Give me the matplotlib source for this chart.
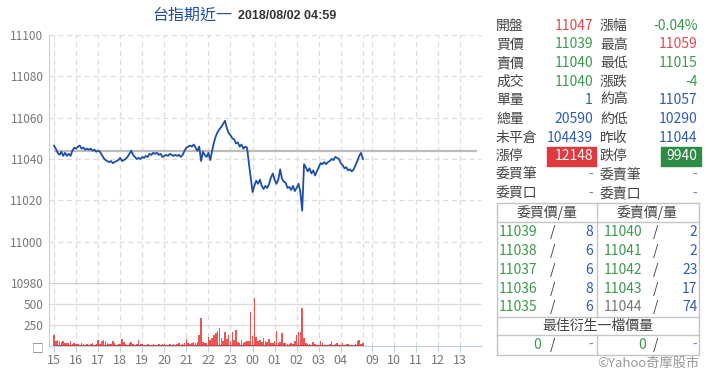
import numpy as np
import matplotlib.pyplot as plt

plt.rcParams['font.family'] = ['Noto Sans CJK TC', 'DejaVu Sans']

# minutes after 15:00 (night session), sampled every 5 minutes up to 05:00
minutes = np.arange(0, 845, 5)

price = [
    11046.5, 11045, 11043, 11042, 11043.5, 11041.5, 11043, 11041.5, 11042.5, 11041.5,
    11044, 11045.5, 11045, 11046, 11046.5, 11045, 11045.5, 11044.5, 11045, 11044.5,
    11045, 11044, 11044.5, 11043.5, 11044, 11043.5, 11042, 11040.5, 11039.5, 11039,
    11038.5, 11039, 11038, 11038.5, 11039, 11039.5, 11040.5, 11039, 11039.5, 11040,
    11041, 11042.5, 11044, 11042, 11041, 11040, 11040.5, 11040, 11041, 11040.5,
    11041.5, 11041, 11042.5, 11042, 11043, 11042.5, 11043, 11042, 11042.5, 11041,
    11041.5, 11042, 11041.5, 11042.5, 11042, 11041.5, 11042, 11041.5, 11042, 11041,
    11042, 11044, 11045.5, 11046, 11046.5, 11046, 11047, 11045.5, 11044, 11046,
    11039, 11043.5, 11042, 11041, 11043, 11039.5, 11044, 11048, 11051, 11053,
    11054.5, 11055.5, 11057, 11058.5, 11055, 11052.5, 11051.5, 11050, 11049.5, 11047.5,
    11048, 11046, 11047, 11045, 11046, 11045.5, 11038, 11031, 11024, 11027,
    11029.5, 11028, 11030, 11027, 11025.5, 11027, 11026, 11028, 11031, 11033,
    11030, 11028, 11030, 11035, 11030.5, 11029, 11028.5, 11026, 11026.5, 11025,
    11027, 11024.5, 11026, 11028, 11024, 11015, 11037.5, 11036, 11034, 11035.5,
    11033, 11034.5, 11032, 11034, 11036, 11038, 11037.5, 11038.5, 11037.5, 11038.5,
    11039, 11040, 11039.5, 11041, 11040.5, 11040, 11038, 11037, 11035.5, 11036,
    11034.5, 11035, 11034, 11035, 11037, 11039, 11041.5, 11043, 11040,
]

volume = [
    130, 60, 75, 55, 45, 60, 35, 40, 30, 55,
    25, 40, 20, 25, 15, 30, 20, 15, 25, 10,
    20, 30, 15, 25, 70, 20, 60, 70, 55, 35,
    25, 20, 55, 35, 15, 20, 25, 85, 50, 20,
    15, 30, 45, 20, 15, 25, 70, 20, 25, 15,
    10, 20, 15, 10, 20, 15, 10, 20, 15, 25,
    20, 15, 10, 20, 15, 25, 10, 20, 30, 15,
    25, 40, 85, 40, 25, 30, 50, 30, 45, 130,
    330, 50, 40, 30, 110, 70, 90, 130, 160, 180,
    210, 100, 60, 170, 80, 130, 60, 170, 70, 185,
    50, 40, 70, 30, 45, 60, 60, 410, 120, 570,
    110, 60, 70, 50, 100, 60, 45, 80, 40, 30,
    60, 180, 30, 45, 160, 40, 30, 25, 20, 35,
    20, 60, 130, 170, 170, 450, 100, 40, 25, 20,
    15, 50, 20, 15, 10, 65, 35, 15, 10, 15,
    20, 65, 15, 20, 40, 15, 10, 35, 15, 20,
    25, 15, 10, 15, 25, 60, 70, 20, 30,
]

prev_close = 11044
tick_pos = [0, 60, 120, 180, 240, 300, 360, 420, 480, 540, 600, 660, 720, 780,
            865, 925, 985, 1045, 1105]
tick_labels = ['15', '16', '17', '18', '19', '20', '21', '22', '23', '00', '01',
               '02', '03', '04', '09', '10', '11', '12', '13']
price_ticks = [11000, 11020, 11040, 11060, 11080, 11100]

left_rows = [('開盤', '11047', 'r'), ('買價', '11039', 'g'), ('賣價', '11040', 'g'),
             ('成交', '11040', 'g'), ('單量', '1', 'b'), ('總量', '20590', 'b'),
             ('未平倉', '104439', 'b'), ('漲停', '12148', 'R'), ('委買筆', '-', 'd'),
             ('委買口', '-', 'd')]
right_rows = [('漲幅', '-0.04%', 'g'), ('最高', '11059', 'r'), ('最低', '11015', 'g'),
              ('漲跌', '-4', 'g'), ('約高', '11057', 'b'), ('約低', '10290', 'b'),
              ('昨收', '11044', 'b'), ('跌停', '9940', 'G'), ('委賣筆', '-', 'd'),
              ('委賣口', '-', 'd')]
bid_price = ['11039', '11038', '11037', '11036', '11035']
bid_qty = ['8', '6', '6', '8', '6']
ask_price = ['11040', '11041', '11042', '11043', '11044']
ask_qty = ['2', '2', '23', '17', '74']

RED = '#e5484d'
GREEN = '#3c9a4f'
BLUE = '#2f5cb5'
LABEL = '#444444'
DASH = '#7083b0'
colors = {'r': RED, 'g': GREEN, 'b': BLUE, 'd': DASH, 'R': 'white', 'G': 'white'}

W, H = 720, 385
fig = plt.figure(figsize=(W / 100, H / 100), dpi=100)


def fx(x):
    return x / W


def fy(y):
    return 1 - y / H


x0, x1 = 49, 482
xmin, xmax = -13.6, 1164
ax = fig.add_axes([fx(x0), fy(283), (x1 - x0) / W, (283 - 35) / H])
axv = fig.add_axes([fx(x0), fy(346), (x1 - x0) / W, (346 - 283) / H])

grid_c = '#dcdcdc'
axis_c = '#bcd0ea'
for a in (ax, axv):
    a.set_xlim(xmin, xmax)
    for s in a.spines.values():
        s.set_visible(False)
    a.spines['left'].set_visible(True)
    a.spines['left'].set_color(axis_c)
    for t in tick_pos + [840]:
        a.axvline(t, color=grid_c, lw=0.9, ls=(0, (4, 3)), zorder=0)
    a.tick_params(axis='y', length=0, labelsize=8.5, labelcolor='#777777', pad=4)

# price panel
ax.set_ylim(10980, 11100)
ax.set_yticks(price_ticks + [10980])
ax.set_yticklabels([str(v) for v in price_ticks] + ['10980'])
for v in price_ticks:
    ax.axhline(v, color=grid_c, lw=0.9, ls=(0, (4, 3)), zorder=0)
ax.set_xticks([])
ax.hlines(prev_close, 0, 1150, color='#bdbdbd', lw=1.6, zorder=1)
ax.plot(minutes, price, color='#1f4ea8', lw=1.3, zorder=2)

# volume panel
axv.set_ylim(0, 750)
axv.axhline(750, color='#cccccc', lw=1.6, zorder=1)
for v in (250, 500):
    axv.axhline(v, color='#dddddd', lw=1.0, zorder=0)
axv.bar(minutes, volume, width=4.2, color='#e53935', alpha=0.85, lw=0, zorder=2)
axv.hlines(0, 0, 842, color='#e53935', lw=1.5, zorder=3)
axv.set_yticks([0, 250, 500])
axv.set_yticklabels(['□', '250', '500'])
axv.spines['bottom'].set_visible(True)
axv.spines['bottom'].set_color(axis_c)
axv.set_xticks(tick_pos)
axv.set_xticklabels(tick_labels)
axv.tick_params(axis='x', length=4, color=axis_c, labelsize=9, labelcolor='#777777', pad=2)

# title
fig.text(fx(232), fy(15), '台指期近一', color='#1f4ea8', fontsize=11.5,
         ha='right', va='center')
fig.text(fx(238), fy(16), '2018/08/02 04:59', color='#333333', fontsize=9,
         fontweight='bold', ha='left', va='center', family=['Liberation Sans', 'DejaVu Sans'])

# quote panel
row_y = [26, 44.5, 63.2, 81.8, 100.4, 119, 137.6, 156.2, 174.8, 193.4]
fig.patches.append(plt.Rectangle((fx(547.3), fy(165.7)), (596 - 547.3) / W, 19 / H,
                                 transform=fig.transFigure, color='#e0393e', zorder=0))
fig.patches.append(plt.Rectangle((fx(660.7), fy(165.7)), (700.7 - 660.7) / W, 19 / H,
                                 transform=fig.transFigure, color='#2e8b45', zorder=0))
for y, (lab, val, c) in zip(row_y, left_rows):
    fig.text(fx(496), fy(y), lab, color=LABEL, fontsize=10, ha='left', va='center')
    fig.text(fx(593), fy(y), val, color=colors[c], fontsize=10, ha='right', va='center')
for y, (lab, val, c) in zip(row_y, right_rows):
    fig.text(fx(600), fy(y), lab, color=LABEL, fontsize=10, ha='left', va='center')
    fig.text(fx(697.5), fy(y), val, color=colors[c], fontsize=10, ha='right', va='center')

# order book table
box_c = '#c4c4c4'
bl, br, bdiv = 496.7, 699, 596.7


def hline(y):
    fig.add_artist(plt.Line2D([fx(bl), fx(br)], [fy(y), fy(y)], color=box_c, lw=1))


def vline(x, ya, yb):
    fig.add_artist(plt.Line2D([fx(x), fx(x)], [fy(ya), fy(yb)], color=box_c, lw=1))


for y in (203.3, 222.3, 317.3, 335, 355):
    hline(y)
vline(bl, 203.3, 355)
vline(br, 203.3, 355)
vline(bdiv, 203.3, 317.3)
vline(bdiv, 335, 355)

fig.text(fx(546.7), fy(213), '委買價/量', color=LABEL, fontsize=10, ha='center', va='center')
fig.text(fx(647.5), fy(213), '委賣價/量', color=LABEL, fontsize=10, ha='center', va='center')
book_y = [232.3, 251, 270, 288.7, 307.3]
for i, y in enumerate(book_y):
    fig.text(fx(498.5), fy(y), bid_price[i], color=GREEN, fontsize=10, ha='left', va='center')
    fig.text(fx(550), fy(y), '/', color=LABEL, fontsize=10, ha='left', va='center')
    fig.text(fx(593), fy(y), bid_qty[i], color=BLUE, fontsize=10, ha='right', va='center')
    ac = '#777777' if ask_price[i] == str(prev_close) else GREEN
    fig.text(fx(603.3), fy(y), ask_price[i], color=ac, fontsize=10, ha='left', va='center')
    fig.text(fx(653.3), fy(y), '/', color=LABEL, fontsize=10, ha='left', va='center')
    fig.text(fx(697.5), fy(y), ask_qty[i], color=BLUE, fontsize=10, ha='right', va='center')

fig.text(fx(597.8), fy(326), '最佳衍生一檔價量', color=LABEL, fontsize=10, ha='center', va='center')
fig.text(fx(541), fy(345), '0', color=GREEN, fontsize=10, ha='right', va='center')
fig.text(fx(550), fy(345), '/', color=LABEL, fontsize=10, ha='left', va='center')
fig.text(fx(593), fy(345), '-', color=DASH, fontsize=10, ha='right', va='center')
fig.text(fx(646), fy(345), '0', color=GREEN, fontsize=10, ha='right', va='center')
fig.text(fx(653.3), fy(345), '/', color=LABEL, fontsize=10, ha='left', va='center')
fig.text(fx(697.5), fy(345), '-', color=DASH, fontsize=10, ha='right', va='center')
fig.text(fx(699.5), fy(363), '©Yahoo奇摩股市', color='#9a9a9a', fontsize=9.5, ha='right', va='center')

fig.savefig('out.png', dpi=100)
